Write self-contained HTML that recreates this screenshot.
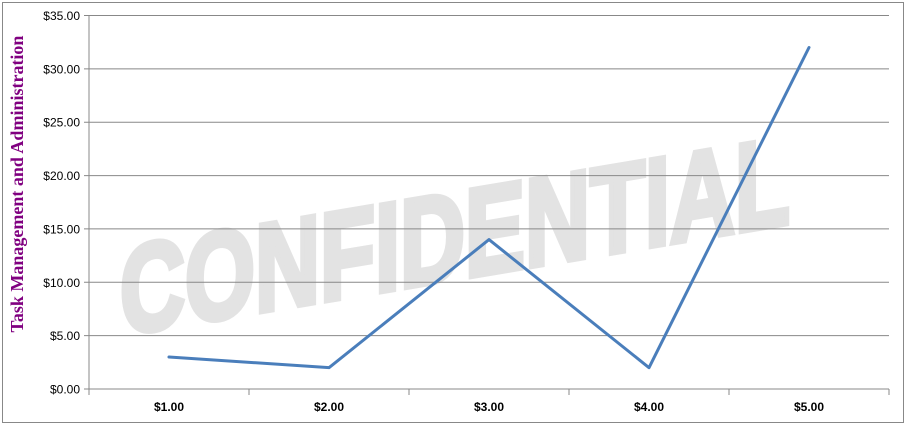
<!DOCTYPE html>
<html><head><meta charset="utf-8"><style>
html,body{margin:0;padding:0;background:#fff;}
svg{display:block;font-family:"Liberation Sans",sans-serif;}
.wm{font-weight:bold;font-family:"Liberation Sans",sans-serif;}
</style></head><body>
<svg id="chart" width="906" height="426">
<rect x="2.5" y="2.5" width="901" height="420" fill="#fff" stroke="#888"/>
<g transform="translate(120,335) skewY(-9.5) scale(0.72,1)">
<text class="wm" x="0" y="0" font-size="125" fill="#e3e3e3" stroke="#e3e3e3" stroke-width="6" stroke-linejoin="miter">CONFIDENTIAL</text>
</g>
<g id="grid"></g>
<g id="axes"></g>
<text transform="translate(23,184) rotate(-90)" text-anchor="middle" font-family="Liberation Serif, serif" font-weight="bold" font-size="18" fill="#800080">Task Management and Administration</text>
<g id="series"></g>
</svg>
<script>
const categories = ["$1.00","$2.00","$3.00","$4.00","$5.00"];
const values = [3, 2, 14, 2, 32];
const yTicks = [0,5,10,15,20,25,30,35];
const yTickLabels = ["$0.00","$5.00","$10.00","$15.00","$20.00","$25.00","$30.00","$35.00"];
const NS="http://www.w3.org/2000/svg";
const L=89,R=889,T=15.5,B=389,yMax=35;
const y=v=>B-(v/yMax)*(B-T);
const bw=(R-L)/categories.length;
const x=i=>L+bw*(i+0.5);
function mk(tag,attrs,parent,text){const e=document.createElementNS(NS,tag);for(const k in attrs)e.setAttribute(k,attrs[k]);if(text!=null)e.textContent=text;document.getElementById(parent).appendChild(e);return e;}
yTicks.forEach((t,i)=>{
 const g=mk('line',{x1:L-5,x2:R,y1:y(t),y2:y(t),stroke:'#888','stroke-width':1},'grid');
 
 
 const lb=mk('text',{x:L-9,y:y(t)+4.5,'text-anchor':'end','font-size':12,fill:'#000'},'axes',yTickLabels[i]);
 
 
});
const ya=mk('line',{x1:L,x2:L,y1:T,y2:B+6,stroke:'#888'},'axes');


for(let i=0;i<=categories.length;i++){
 const tk=mk('line',{x1:L+bw*i,x2:L+bw*i,y1:B,y2:B+6,stroke:'#888'},'axes');
 
 
}
categories.forEach((c,i)=>{
 const lb=mk('text',{x:x(i),y:B+22,'text-anchor':'middle','font-size':12,'font-weight':'bold',fill:'#000'},'axes',c);
 
 
});
const pts=values.map((v,i)=>x(i)+','+y(v)).join(' ');
const pl=mk('polyline',{points:pts,fill:'none',stroke:'#4a7ebb','stroke-width':3,'stroke-linejoin':'round','stroke-linecap':'round'},'series');


</script>
</body></html>
